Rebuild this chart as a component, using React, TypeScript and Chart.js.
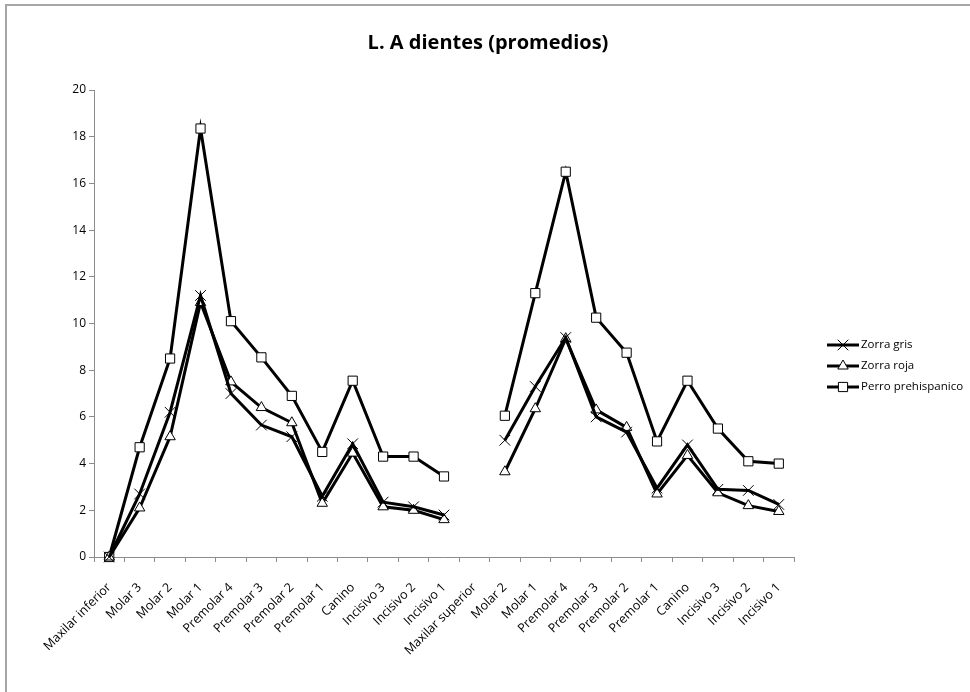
import React, { useEffect, useRef } from "react";
import { Chart, registerables } from "chart.js";

Chart.register(...registerables);

// Categorías del eje X: maxilar inferior y superior con sus piezas dentales
const categorias = [
  "Maxilar inferior", "Molar 3", "Molar 2", "Molar 1", "Premolar 4", "Premolar 3",
  "Premolar 2", "Premolar 1", "Canino", "Incisivo 3", "Incisivo 2", "Incisivo 1",
  "Maxilar superior", "Molar 2", "Molar 1", "Premolar 4", "Premolar 3", "Premolar 2",
  "Premolar 1", "Canino", "Incisivo 3", "Incisivo 2", "Incisivo 1",
];

// Longitud promedio por pieza (null = sin valor, corta la línea)
const zorraGris = [
  0, 2.7, 6.2, 11.2, 7.0, 5.65, 5.15, 2.6, 4.85, 2.35, 2.15, 1.8,
  null, 5.0, 7.3, 9.4, 6.0, 5.35, 2.95, 4.8, 2.9, 2.85, 2.25,
];
const zorraRoja = [
  0, 2.1, 5.15, 10.9, 7.5, 6.4, 5.75, 2.3, 4.45, 2.15, 2.0, 1.6,
  null, 3.65, 6.35, 9.35, 6.3, 5.55, 2.7, 4.35, 2.75, 2.2, 1.95,
];
const perroPrehispanico = [
  0, 4.7, 8.5, 18.35, 10.1, 8.55, 6.9, 4.5, 7.55, 4.3, 4.3, 3.45,
  null, 6.05, 11.3, 16.5, 10.25, 8.75, 4.95, 7.55, 5.5, 4.1, 4.0,
];

const titulo = "L. A dientes (promedios)";
const yMin = 0;
const yMax = 20;
const yPaso = 2;

const FONT = '"Open Sans", "Noto Sans", sans-serif';
const AXIS_GRAY = "#8c8c8c";

type Serie = { label: string; data: (number | null)[]; pointStyle: string; radius: number };

const series: Serie[] = [
  { label: "Zorra gris", data: zorraGris, pointStyle: "crossRot", radius: 7.5 },
  { label: "Zorra roja", data: zorraRoja, pointStyle: "triangle", radius: 6 },
  { label: "Perro prehispanico", data: perroPrehispanico, pointStyle: "rect", radius: 6.5 },
];

// Marcador de leyenda dibujado a mano (línea + símbolo)
function drawMarker(ctx: CanvasRenderingContext2D, style: string, x: number, y: number, r: number) {
  ctx.save();
  ctx.strokeStyle = "#000";
  ctx.fillStyle = "#fff";
  ctx.lineWidth = 1;
  ctx.beginPath();
  if (style === "crossRot") {
    const d = Math.SQRT1_2 * r;
    ctx.moveTo(x - d, y - d);
    ctx.lineTo(x + d, y + d);
    ctx.moveTo(x + d, y - d);
    ctx.lineTo(x - d, y + d);
    ctx.stroke();
  } else if (style === "triangle") {
    const h = Math.sin(Math.PI / 3) * r;
    ctx.moveTo(x, y - r);
    ctx.lineTo(x + h, y + r / 2);
    ctx.lineTo(x - h, y + r / 2);
    ctx.closePath();
    ctx.fill();
    ctx.stroke();
  } else {
    const s = Math.SQRT1_2 * r;
    ctx.rect(x - s, y - s, 2 * s, 2 * s);
    ctx.fill();
    ctx.stroke();
  }
  ctx.restore();
}

const marcoYTitulo = {
  id: "marcoYTitulo",
  beforeDraw(chart: any) {
    const { ctx, width, height } = chart;
    ctx.save();
    ctx.fillStyle = "#fff";
    ctx.fillRect(0, 0, width, height);
    ctx.strokeStyle = "#a6a6a6";
    ctx.lineWidth = 2;
    ctx.beginPath();
    ctx.moveTo(6, height + 2);
    ctx.lineTo(6, 5);
    ctx.lineTo(width + 2, 5);
    ctx.stroke();
    ctx.fillStyle = "#000";
    ctx.font = `bold 20px ${FONT}`;
    ctx.textAlign = "center";
    ctx.textBaseline = "middle";
    ctx.fillText(titulo, 488, 43);
    ctx.restore();
  },
};

const leyenda = {
  id: "leyenda",
  afterDraw(chart: any) {
    const { ctx } = chart;
    const x0 = 827;
    const x1 = 859;
    const yBase = 345;
    const paso = 21;
    ctx.save();
    chart.data.datasets.forEach((ds: any, i: number) => {
      const y = yBase + i * paso;
      ctx.strokeStyle = "#000";
      ctx.lineWidth = 3;
      ctx.beginPath();
      ctx.moveTo(x0, y);
      ctx.lineTo(x1, y);
      ctx.stroke();
      drawMarker(ctx, ds.pointStyle, (x0 + x1) / 2, y, ds.pointRadius);
      ctx.fillStyle = "#000";
      ctx.font = `11.5px ${FONT}`;
      ctx.textAlign = "left";
      ctx.textBaseline = "middle";
      ctx.fillText(ds.label, x1 + 2, y);
    });
    ctx.restore();
  },
};

export default function App() {
  const ref = useRef<HTMLCanvasElement | null>(null);

  useEffect(() => {
    if (!ref.current) return;
    const chart = new Chart(ref.current, {
      type: "line",
      data: {
        labels: categorias,
        datasets: series.map((s) => ({
          label: s.label,
          data: s.data,
          borderColor: "#000",
          borderWidth: 3,
          backgroundColor: "#fff",
          pointStyle: s.pointStyle as any,
          pointRadius: s.radius,
          pointBorderColor: "#000",
          pointBackgroundColor: "#fff",
          pointBorderWidth: 1,
          tension: 0,
          spanGaps: false,
          clip: false as any,
        })),
      },
      options: {
        responsive: false,
        animation: false,
        devicePixelRatio: 1,
        layout: { padding: { top: 90, right: 176, left: 0, bottom: 0 } },
        plugins: {
          legend: { display: false },
          title: { display: false },
          tooltip: { enabled: false },
        },
        scales: {
          x: {
            type: "category",
            offset: true,
            afterFit: (scale: any) => {
              scale.height = 135;
            },
            grid: {
              offset: true,
              drawOnChartArea: false,
              drawTicks: true,
              tickLength: 5,
              color: AXIS_GRAY,
            },
            border: { color: AXIS_GRAY, width: 1 },
            ticks: {
              autoSkip: false,
              maxRotation: 45,
              minRotation: 45,
              color: "#000",
              padding: 18,
              font: { family: FONT, size: 12.5 },
            },
          },
          y: {
            min: yMin,
            max: yMax,
            afterFit: (scale: any) => {
              scale.width = 94;
            },
            grid: {
              drawOnChartArea: false,
              drawTicks: true,
              tickLength: 5,
              color: AXIS_GRAY,
            },
            border: { color: AXIS_GRAY, width: 1 },
            ticks: {
              stepSize: yPaso,
              color: "#000",
              padding: 3,
              font: { family: FONT, size: 12 },
            },
          },
        },
      },
      plugins: [marcoYTitulo, leyenda],
    });
    return () => chart.destroy();
  }, []);

  return (
    <div style={{ position: "fixed", left: 0, top: 0, width: 970, height: 692, background: "#fff" }}>
      <canvas ref={ref} width={970} height={692} style={{ display: "block" }} />
    </div>
  );
}
